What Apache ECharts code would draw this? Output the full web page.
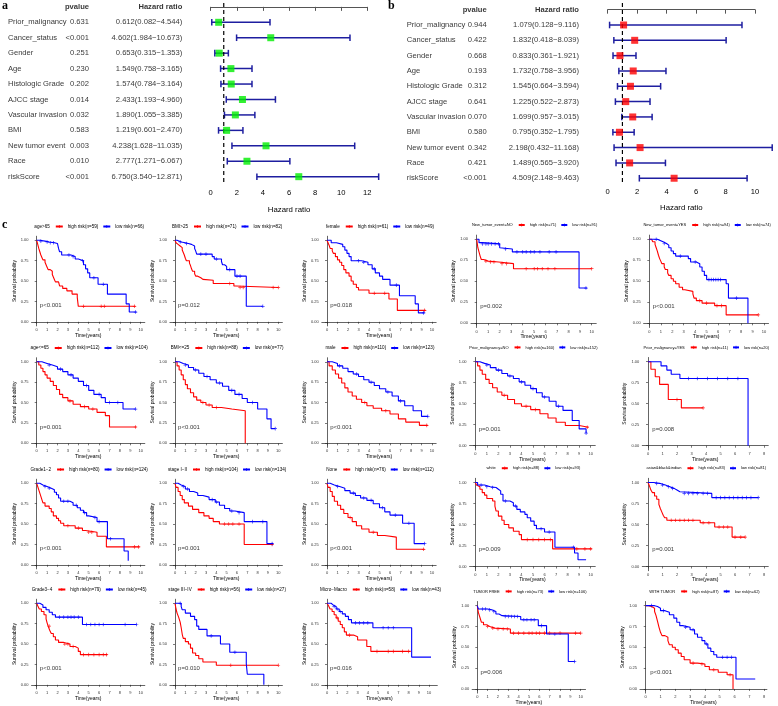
<!DOCTYPE html>
<html>
<head>
<meta charset="utf-8">
<script src="https://cdn.jsdelivr.net/npm/echarts@6/dist/echarts.min.js"></script>
<style>html,body{margin:0;background:#fff}#main{width:778px;height:706px}</style>
</head>
<body>
<div id="main"></div>
<script>
// ---- forest plot data (a: univariate, b: multivariate) ----
var forestVars = ['Prior_malignancy','Cancer_status','Gender','Age','Histologic Grade','AJCC stage','Vascular invasion','BMI','New tumor event','Race','riskScore'];
var uniP = ['0.631','<0.001','0.251','0.230','0.202','0.014','0.032','0.583','0.003','0.010','<0.001'];
var uniHR = [0.612,4.602,0.653,1.549,1.574,2.433,1.890,1.219,4.238,2.777,6.750];
var uniLow = [0.082,1.984,0.315,0.758,0.784,1.193,1.055,0.601,1.628,1.271,3.540];
var uniHigh = [4.544,10.673,1.353,3.165,3.164,4.960,3.385,2.470,11.035,6.067,12.871];
var multiP = ['0.944','0.422','0.668','0.193','0.312','0.641','0.070','0.580','0.342','0.421','<0.001'];
var multiHR = [1.079,1.832,0.833,1.732,1.545,1.225,1.699,0.795,2.198,1.489,4.509];
var multiLow = [0.128,0.418,0.361,0.758,0.664,0.522,0.957,0.352,0.432,0.565,2.148];
var multiHigh = [9.116,8.039,1.921,3.956,3.594,2.873,3.015,1.795,11.168,3.920,9.463];

// ---- KM panels (c) ----
var kmStrata = ['age>65','BMI>25','female','New_tumor_event=NO','New_tumor_event=YES',
  'age<=65','BMI<=25','male','Prior_malignancy=NO','Prior_malignancy=YES',
  'Grade1\u22122','stage I\u2212II','None','white','asian&black&indian',
  'Grade3\u22124','stage III\u2212IV','Micro\u2212Macro','TUMOR FREE','WITH TUMOR'];
var kmHighN = [59,71,61,71,94, 112,88,110,160,11, 80,104,76,88,83, 79,56,58,73,87];
var kmLowN = [66,82,49,91,74, 104,77,123,152,20, 124,134,112,93,81, 45,27,43,106,62];
var kmPval = ['p<0.001','p=0.012','p=0.018','p=0.002','p<0.001',
  'p=0.001','p<0.001','p<0.001','p=0.001','p=0.008',
  'p<0.001','p=0.001','p<0.001','p=0.009','p=0.001',
  'p<0.001','p=0.010','p=0.016','p=0.006','p<0.001'];
var kmTickMax = [10,10,10,10,10, 10,10,10,10,8, 10,10,10,10,8, 10,10,10,10,8];

var kmHigh = [
  [[0,1],[0.1,0.95],[0.2,0.9],[0.3,0.86],[0.4,0.82],[0.5,0.79],[0.6,0.76],[0.8,0.73],[0.9,0.7],[1.0,0.67],[1.1,0.64],[1.3,0.62],[1.5,0.58],[1.6,0.55],[1.7,0.52],[1.8,0.49],[2.1,0.47],[2.2,0.44],[2.5,0.41],[2.9,0.38],[3.4,0.34],[3.9,0.3],[4.0,0.19],[9.5,0.19]],
  [[0,1],[0.1,0.97],[0.2,0.95],[0.3,0.93],[0.5,0.91],[0.7,0.88],[0.8,0.85],[0.9,0.82],[1.0,0.78],[1.1,0.75],[1.4,0.72],[1.5,0.69],[1.6,0.65],[1.7,0.62],[1.9,0.59],[2.0,0.56],[2.2,0.54],[2.5,0.52],[2.7,0.51],[3.7,0.47],[5.7,0.44],[5.9,0.42],[10,0.42]],
  [[0,1],[0.1,0.97],[0.2,0.94],[0.3,0.9],[0.5,0.87],[0.6,0.84],[0.8,0.8],[1.0,0.76],[1.2,0.73],[1.4,0.69],[1.6,0.64],[1.8,0.6],[2.1,0.56],[2.3,0.5],[2.5,0.46],[2.8,0.42],[3.0,0.39],[4.0,0.35],[5.9,0.28],[6.7,0.14],[9.4,0.14]],
  [[0,1],[0.05,0.95],[0.1,0.9],[0.2,0.85],[0.3,0.8],[0.4,0.76],[0.6,0.74],[1.0,0.73],[1.9,0.71],[3.2,0.65],[10,0.65]],
  [[0,1],[0.2,0.99],[0.3,0.97],[0.5,0.94],[0.6,0.9],[0.7,0.86],[0.8,0.81],[0.9,0.77],[1.0,0.74],[1.1,0.71],[1.3,0.67],[1.4,0.64],[1.6,0.6],[1.7,0.57],[1.9,0.53],[2.1,0.5],[2.3,0.47],[2.6,0.43],[2.9,0.4],[3.1,0.38],[3.8,0.35],[3.9,0.3],[4.1,0.27],[4.6,0.24],[5.7,0.21],[6.7,0.1],[9.5,0.1]],
  [[0,1],[0.2,0.96],[0.4,0.92],[0.6,0.88],[0.8,0.84],[1.0,0.8],[1.3,0.76],[1.6,0.71],[1.9,0.66],[2.2,0.6],[2.5,0.56],[3.0,0.52],[3.5,0.48],[4.2,0.45],[5.0,0.42],[5.8,0.38],[6.6,0.34],[7.0,0.2],[9.6,0.2]],
  [[0,1],[0.2,0.95],[0.4,0.9],[0.6,0.84],[0.8,0.78],[1.0,0.72],[1.2,0.67],[1.5,0.62],[1.8,0.57],[2.1,0.53],[2.5,0.5],[3.0,0.47],[3.6,0.44],[4.5,0.42],[5.5,0.4],[6.8,0.0]],
  [[0,1],[0.2,0.95],[0.5,0.9],[0.8,0.85],[1.1,0.8],[1.4,0.74],[1.7,0.68],[2.0,0.63],[2.4,0.58],[2.8,0.54],[3.3,0.5],[3.8,0.46],[4.4,0.43],[5.2,0.4],[6.0,0.36],[6.8,0.3],[7.5,0.26],[8.8,0.22],[9.6,0.22]],
  [[0,1],[0.2,0.95],[0.4,0.9],[0.6,0.85],[0.9,0.79],[1.2,0.74],[1.5,0.69],[1.9,0.64],[2.3,0.6],[2.8,0.55],[3.4,0.5],[4.0,0.47],[4.8,0.43],[5.6,0.38],[6.3,0.33],[7.0,0.28],[7.8,0.24],[9.0,0.22],[9.8,0.22]],
  [[0,1],[0.2,0.91],[0.5,0.82],[0.8,0.73],[1.4,0.55],[2.3,0.45],[3.8,0.45]],
  [[0,1],[0.1,0.96],[0.2,0.92],[0.3,0.88],[0.4,0.84],[0.5,0.8],[0.6,0.76],[0.8,0.72],[1.2,0.69],[1.4,0.65],[1.6,0.6],[1.9,0.57],[2.1,0.54],[2.3,0.51],[2.6,0.48],[3.7,0.45],[4.4,0.42],[4.7,0.4],[5.8,0.35],[6.7,0.22],[9.9,0.22]],
  [[0,1],[0.1,0.95],[0.3,0.9],[0.5,0.85],[0.7,0.8],[0.9,0.76],[1.3,0.72],[1.7,0.68],[2.3,0.64],[2.8,0.6],[3.3,0.57],[3.7,0.53],[4.3,0.5],[6.7,0.25],[9.5,0.25]],
  [[0,1],[0.1,0.95],[0.3,0.9],[0.5,0.84],[0.7,0.78],[1.0,0.73],[1.3,0.68],[1.6,0.63],[2.0,0.58],[2.4,0.53],[2.8,0.48],[3.3,0.44],[4.0,0.4],[4.8,0.36],[5.5,0.34],[6.6,0.19],[9.3,0.19]],
  [[0,1],[0.1,0.97],[0.2,0.95],[0.4,0.92],[0.6,0.88],[0.8,0.85],[1.0,0.81],[1.5,0.78],[1.7,0.72],[1.8,0.66],[2.0,0.6],[2.3,0.55],[2.5,0.5],[2.9,0.46],[3.3,0.42],[3.8,0.38],[4.0,0.32],[6.7,0.21],[10.1,0.21]],
  [[0,1],[0.1,0.96],[0.2,0.91],[0.3,0.88],[0.45,0.84],[0.6,0.8],[0.75,0.74],[0.85,0.69],[0.95,0.65],[1.05,0.61],[1.15,0.58],[1.3,0.55],[3.6,0.52],[4.6,0.47],[5.8,0.35],[6.7,0.35]],
  [[0,1],[0.1,0.97],[0.25,0.93],[0.45,0.9],[0.7,0.86],[0.9,0.81],[1.0,0.76],[1.1,0.72],[1.25,0.67],[1.4,0.63],[1.6,0.59],[1.8,0.55],[2.1,0.52],[2.6,0.5],[3.2,0.47],[3.7,0.45],[4.0,0.41],[4.2,0.37],[6.8,0.37]],
  [[0,1],[0.1,0.93],[0.2,0.88],[0.35,0.83],[0.5,0.77],[0.6,0.7],[0.7,0.62],[0.8,0.57],[1.0,0.53],[1.3,0.5],[1.5,0.45],[1.7,0.39],[2.0,0.36],[2.3,0.32],[2.7,0.28],[4.0,0.24],[10,0.24]],
  [[0,1],[0.15,0.97],[0.3,0.93],[0.5,0.9],[0.7,0.86],[0.9,0.82],[1.1,0.78],[1.3,0.74],[1.5,0.7],[1.7,0.65],[1.9,0.61],[2.6,0.59],[3.0,0.55],[3.9,0.47],[4.3,0.41],[8.2,0.41]],
  [[0,1],[0.05,0.96],[0.1,0.92],[0.2,0.88],[0.3,0.84],[0.4,0.8],[0.6,0.77],[0.9,0.75],[1.2,0.73],[1.7,0.72],[3.2,0.67],[10,0.67]],
  [[0,1],[0.2,0.99],[0.4,0.97],[0.6,0.93],[0.7,0.88],[0.8,0.81],[0.9,0.74],[1.0,0.68],[1.1,0.64],[1.3,0.62],[1.5,0.58],[1.6,0.53],[1.8,0.5],[2.0,0.47],[2.2,0.43],[2.4,0.39],[2.6,0.35],[3.0,0.31],[3.5,0.3],[4.0,0.27],[4.3,0.23],[4.9,0.2],[5.5,0.17],[5.9,0.0]]
];
var kmLow = [
  [[0,1],[0.3,0.99],[0.8,0.98],[1.2,0.97],[1.7,0.96],[2.0,0.94],[2.1,0.9],[2.2,0.86],[2.4,0.82],[3.3,0.8],[3.7,0.77],[4.0,0.75],[4.5,0.7],[4.7,0.65],[4.9,0.6],[5.1,0.54],[5.9,0.46],[6.8,0.34],[8.6,0.22],[8.9,0.12],[9.6,0.12]],
  [[0,1],[0.2,0.98],[0.6,0.97],[1.0,0.96],[1.3,0.95],[1.6,0.93],[1.9,0.9],[2.0,0.87],[2.1,0.83],[3.6,0.8],[3.8,0.77],[4.5,0.74],[4.6,0.7],[4.8,0.68],[5.0,0.64],[5.8,0.56],[6.9,0.19],[8.5,0.19]],
  [[0,1],[0.4,0.97],[0.9,0.95],[1.5,0.92],[1.7,0.88],[1.9,0.84],[2.1,0.8],[2.3,0.75],[3.3,0.73],[3.9,0.7],[4.3,0.65],[4.6,0.6],[5.0,0.56],[5.3,0.52],[6.0,0.45],[6.9,0.32],[8.4,0.22],[8.7,0.11],[9.3,0.11]],
  [[0,1],[0.2,0.96],[0.5,0.945],[2.0,0.9],[2.1,0.885],[3.1,0.85],[8.9,0.42],[9.6,0.42]],
  [[0,1],[0.7,0.99],[0.9,0.97],[1.2,0.95],[1.5,0.93],[1.7,0.9],[1.9,0.86],[2.1,0.83],[2.3,0.8],[3.4,0.77],[3.6,0.73],[4.1,0.71],[4.4,0.67],[4.6,0.62],[4.8,0.57],[5.0,0.52],[6.7,0.47],[6.9,0.3],[8.6,0.0]],
  [[0,1],[0.5,0.98],[1.0,0.96],[1.5,0.94],[2.0,0.91],[2.5,0.88],[3.0,0.84],[3.5,0.8],[4.0,0.76],[4.5,0.71],[5.0,0.65],[5.5,0.6],[6.2,0.56],[6.6,0.5],[8.3,0.42],[9.5,0.42]],
  [[0,1],[0.4,0.98],[0.8,0.96],[1.3,0.93],[1.8,0.9],[2.3,0.86],[2.8,0.82],[3.4,0.78],[4.0,0.74],[4.6,0.7],[5.2,0.65],[5.8,0.6],[6.5,0.55],[7.0,0.5],[8.0,0.42],[8.9,0.3],[9.3,0.18],[9.7,0.18]],
  [[0,1],[0.5,0.98],[1.0,0.95],[1.5,0.92],[2.0,0.88],[2.5,0.85],[3.0,0.82],[3.5,0.78],[4.0,0.75],[4.5,0.71],[5.0,0.67],[5.6,0.63],[6.2,0.58],[6.8,0.52],[7.4,0.46],[8.2,0.4],[9.0,0.33],[9.6,0.33]],
  [[0,1],[0.4,0.98],[0.8,0.96],[1.3,0.93],[1.8,0.9],[2.3,0.86],[2.8,0.83],[3.3,0.8],[3.8,0.76],[4.3,0.72],[4.8,0.68],[5.3,0.63],[5.8,0.58],[6.4,0.53],[7.0,0.47],[7.6,0.42],[8.4,0.3],[9.0,0.2],[9.6,0.15]],
  [[0,1],[0.9,0.95],[1.3,0.9],[1.6,0.85],[2.2,0.8],[6.9,0.0]],
  [[0,1],[0.3,0.98],[0.6,0.96],[1.0,0.94],[1.4,0.92],[1.7,0.89],[1.9,0.86],[2.1,0.82],[2.3,0.78],[3.2,0.76],[3.5,0.73],[3.9,0.7],[4.2,0.67],[4.5,0.64],[4.8,0.6],[5.0,0.58],[5.8,0.53],[6.8,0.32],[8.4,0.17],[8.8,0.05]],
  [[0,1],[0.3,0.98],[0.6,0.96],[1.0,0.93],[1.4,0.9],[1.8,0.88],[2.2,0.85],[2.7,0.83],[3.3,0.8],[3.9,0.77],[4.3,0.73],[4.8,0.69],[5.3,0.66],[5.8,0.64],[6.7,0.53],[8.9,0.26],[9.5,0.26]],
  [[0,1],[0.3,0.98],[0.7,0.96],[1.2,0.94],[1.7,0.91],[2.2,0.88],[2.7,0.85],[3.2,0.82],[3.8,0.79],[4.4,0.75],[5.0,0.7],[5.5,0.65],[6.0,0.61],[7.2,0.51],[8.3,0.26],[9.3,0.26]],
  [[0,1],[0.2,0.97],[0.8,0.95],[1.3,0.94],[1.8,0.92],[2.0,0.9],[2.2,0.86],[2.4,0.78],[3.0,0.76],[3.3,0.72],[3.6,0.68],[3.9,0.65],[4.3,0.62],[4.5,0.58],[4.8,0.54],[5.1,0.49],[5.3,0.45],[6.0,0.41],[6.9,0.23],[8.6,0.16],[8.9,0.08],[9.6,0.08]],
  [[0,1],[0.4,0.99],[0.8,0.97],[1.2,0.95],[1.5,0.93],[1.8,0.91],[2.0,0.89],[2.2,0.87],[4.4,0.82],[7.6,0.82]],
  [[0,1],[0.3,0.98],[0.6,0.95],[0.9,0.92],[1.2,0.89],[1.5,0.86],[1.8,0.83],[4.4,0.74],[9.6,0.74]],
  [[0,1],[0.6,0.96],[0.7,0.92],[1.0,0.88],[1.5,0.84],[1.9,0.8],[2.1,0.72],[2.3,0.68],[3.1,0.6],[4.4,0.5],[5.3,0.4],[6.9,0.26],[7.0,0.13],[8.6,0.0]],
  [[0,1],[0.4,0.98],[0.6,0.96],[0.9,0.93],[1.2,0.9],[1.5,0.87],[1.8,0.84],[2.1,0.8],[2.4,0.76],[4.5,0.7],[8.3,0.34],[10.2,0.34]],
  [[0,1],[0.1,0.96],[1.0,0.95],[1.4,0.93],[1.8,0.9],[2.1,0.88],[2.4,0.87],[4.2,0.83],[5.9,0.76],[6.7,0.66],[8.8,0.33],[9.4,0.33]],
  [[0,1],[0.6,0.99],[0.8,0.97],[1.0,0.94],[1.3,0.92],[1.6,0.89],[1.9,0.85],[2.1,0.8],[2.3,0.76],[2.5,0.74],[3.0,0.71],[3.3,0.66],[3.5,0.62],[3.8,0.58],[4.0,0.54],[4.2,0.49],[4.4,0.45],[4.6,0.41],[4.8,0.38],[6.1,0.12],[7.4,0.12]]
];
// censoring times
var kmHighCens = [
  [4.5,6.2,6.5,9.4],[5.3,6.3,6.6,9.5,10],[4.5,5.5,9.3],[0.8,1.2,1.5,2.2,2.6,4.3,5.0,5.3,5.7,6.2,6.8,10],[4.4,5.0,5.9,6.3,9.5],
  [3.2,4.6,5.4,9.5],[2.7,3.3,4.0],[3.6,5.6,9.5],[2.5,4.4,5.2,9.7],[2.0,3.8],
  [3.0,4.0,5.0,5.3,9.4,9.8],[4.8,5.2,5.6,6.2,9.4],[2.2,4.4,9.2],[4.5,5.0,5.5,6.0,6.5,8.8,9.5,10],[1.6,1.9,2.2,2.5,2.8,3.1,3.8,4.2,4.9,5.2,5.5,6.0,6.4,6.7],
  [1.2,2.7,3.0,3.5,4.5,5.0,5.5,6.0,6.4,6.7],[5.4,10],[1.0,2.2,4.9,6.0,6.5,7.4,8.0],[1.0,1.5,2.0,2.5,2.9,3.5,4.0,4.5,5.0,5.3,5.7,6.0,6.5,7.0,8.0,9.5,10],[3.2,3.8,4.6,5.7]
];
var kmLowCens = [
  [0.4,1.0,1.3,1.6,3.1,3.5,4.4,5.5,6.4,9.5],[0.5,1.1,2.5,3.0,4.0,5.3,6.0,6.3,8.5],[3.0,3.5,4.5,6.6,9.2],[0.5,0.8,1.0,1.3,1.6,1.9,2.5,3.5,4.0,4.3,4.7,5.0,5.5,6.3,6.9,9.5],[0.6,1.3,2.7,4.0,5.2,5.4,5.6,5.8,6.0,6.2,7.6],
  [1.2,2.3,3.3,4.8,6.0,7.0,7.8,9.5],[1.0,2.0,3.1,4.3,5.5,6.2,7.5,9.7],[1.2,2.8,4.2,5.8,7.0,9.6],[1.0,2.0,3.0,4.0,5.0,6.0,7.2,9.6],[2.8,3.4,4.1,4.8,5.5,6.2],
  [0.8,1.2,2.6,3.0,3.8,4.6,5.6,6.0,7.1],[0.8,1.2,3.6,4.0,5.5,6.2,7.5,8.5,9.4],[1.0,2.5,3.5,4.2,5.3,6.5,7.8,9.3],[0.5,1.0,1.5,2.6,3.5,5.7,6.4,8.5],[0.6,1.0,1.4,1.7,2.5,2.8,3.1,3.4,3.8,4.1,4.7,5.0,5.3,5.6,5.9,6.2,6.5,6.8,7.1,7.6],
  [2.2,2.6,3.0,3.3,3.6,4.0,4.8,5.2,5.6,6.0,6.4,8.5,9.6],[0.5,3.5,5.8],[0.7,1.0,1.3,2.8,3.2,3.6,4.0,5.5,6.0,6.5],[0.5,0.8,1.2,1.6,2.7,3.0,3.3,3.6,3.9,4.5,4.8,5.2,5.5,6.2,7.5,9.4],[0.4,1.2,2.7,3.2,4.1,5.2,5.5,5.8]
];

// ---- layout (pixels) ----
var kmX0 = [36.7,175,327,476.7,649.3, 36.7,175,327,475.3,648, 36.7,175,327,475.3,648, 36.7,175,327,477.3,645.7];
var kmPPU = [10.4,10.33,10.5,11.5,11.47, 10.4,10.33,10.5,11.54,14.5, 10.4,10.33,10.5,11.54,14.5, 10.4,10.33,10.2,10.34,14.8];
var kmT = [9.9,9.9,9.9,9.9,9.9, 9.9,9.9,9.9,9.9,7.9, 9.9,9.9,9.9,9.9,7.9, 9.9,9.9,10.3,9.97,7.8];
var rowTopA = [240.3,361.8,483.3,603.3], rowTopB = [239.3,361.7,482.5,605.7];

var FONT = '"Liberation Sans", Arial, sans-serif';
var RED = '#ff0000', BLUE = '#0000ff';
var PLUS = 'path://M4,0h2v4h4v2h-4v4h-2v-4h-4v-2h4z';
var ctx = document.createElement('canvas').getContext('2d');
function textW(s, size) { ctx.font = size + 'px "Liberation Sans"'; return ctx.measureText(s).width; }
function stepAt(curve, t) {
  var s = curve[0][1];
  for (var i = 0; i < curve.length; i++) if (curve[i][0] <= t) s = curve[i][1];
  return s;
}

var grids = [], xAxes = [], yAxes = [], series = [], titles = [], legends = [];

function textCol(gi, x, rows, texts, pos, bold) {
  series.push({
    type: 'scatter', xAxisIndex: gi, yAxisIndex: gi, silent: true, symbolSize: 0.01,
    itemStyle: {color: 'transparent'},
    data: rows.map(function (r) { return [x, r]; }),
    label: {show: true, position: pos, distance: 0, color: '#000', fontSize: 7.6, fontFamily: FONT,
      fontWeight: bold ? 'bold' : 'normal',
      formatter: function (p) { return texts[p.dataIndex]; }}
  });
}

function addForest(c) {
  var rows = forestVars.map(function (v, i) { return i + 1; });
  var hrText = c.hr.map(function (h, i) {
    return h.toFixed(3) + '(' + c.low[i].toFixed(3) + '\u2212' + c.high[i].toFixed(3) + ')';
  });
  // table
  var gi = grids.length;
  grids.push({left: c.tableLeft, top: c.top, width: 200, height: c.height});
  xAxes.push({gridIndex: gi, type: 'value', min: 0, max: 200, show: false});
  yAxes.push({gridIndex: gi, type: 'value', min: c.ymin, max: c.ymax, inverse: true, show: false});
  textCol(gi, c.nameX, rows, forestVars, 'right', false);
  textCol(gi, c.pX, rows, c.p, 'left', false);
  textCol(gi, c.hrX, rows, hrText, 'left', false);
  textCol(gi, c.pX, [0], ['pvalue'], 'left', true);
  textCol(gi, c.hrX, [0], ['Hazard ratio'], 'left', true);
  // plot
  var gp = grids.length;
  grids.push({left: c.plotLeft, top: c.top, width: c.plotWidth, height: c.height});
  xAxes.push({gridIndex: gp, type: 'value', min: 0, max: c.xmax, interval: 2,
    axisLine: {lineStyle: {color: '#555', width: 1}},
    axisTick: {length: 4, lineStyle: {color: '#555'}},
    axisLabel: {fontSize: 7.6, color: '#000', margin: 5, fontFamily: FONT},
    splitLine: {show: false},
    name: 'Hazard ratio', nameLocation: 'middle', nameGap: 21,
    nameTextStyle: {fontSize: 7.8, color: '#000', fontFamily: FONT}});
  yAxes.push({gridIndex: gp, type: 'value', min: c.ymin, max: c.ymax, inverse: true, show: false});
  series.push({type: 'line', xAxisIndex: gp, yAxisIndex: gp, silent: true, symbol: 'none',
    data: [[1, c.ymin], [1, c.ymax]], lineStyle: {color: '#000', width: 1.2, type: [4, 3]}});
  series.push({type: 'custom', xAxisIndex: gp, yAxisIndex: gp, silent: true, clip: false,
    encode: {x: [0, 1], y: 2},
    data: rows.map(function (r, i) { return [c.low[i], c.high[i], r]; }),
    renderItem: function (params, api) {
      var p1 = api.coord([api.value(0), api.value(2)]);
      var p2 = api.coord([api.value(1), api.value(2)]);
      var st = {stroke: '#1e1ea0', lineWidth: 1.5};
      return {type: 'group', children: [
        {type: 'line', shape: {x1: p1[0], y1: p1[1], x2: p2[0], y2: p2[1]}, style: st},
        {type: 'line', shape: {x1: p1[0], y1: p1[1] - 3.3, x2: p1[0], y2: p1[1] + 3.3}, style: st},
        {type: 'line', shape: {x1: p2[0], y1: p2[1] - 3.3, x2: p2[0], y2: p2[1] + 3.3}, style: st}
      ]};
    }});
  series.push({type: 'scatter', xAxisIndex: gp, yAxisIndex: gp, silent: true, z: 5,
    symbol: 'rect', symbolSize: 7, itemStyle: {color: c.box},
    data: rows.map(function (r, i) { return [c.hr[i], r]; })});
}

addForest({tableLeft: 0, nameX: 8, pX: 89, hrX: 182.3, p: uniP, hr: uniHR, low: uniLow, high: uniHigh,
  plotLeft: 210.7, plotWidth: 156.6, xmax: 12, top: 3, height: 181.4, ymin: -0.25, ymax: 11.5, box: '#00ee00'});
addForest({tableLeft: 385, nameX: 21.7, pX: 101.7, hrX: 194, p: multiP, hr: multiHR, low: multiLow, high: multiHigh,
  plotLeft: 607.7, plotWidth: 147.3, xmax: 10, top: 3, height: 180.3, ymin: -0.435, ymax: 11.33, box: '#ff0000'});

// KM panels
for (var k = 0; k < 20; k++) {
  var col = k % 5, row = Math.floor(k / 5);
  var x0 = kmX0[k], ppu = kmPPU[k], T = kmT[k];
  var y1 = col < 3 ? rowTopA[row] : rowTopB[row];
  var h = col < 3 ? 81.5 : 84;
  var left = x0 - 0.05 * T * ppu, width = 1.1 * T * ppu;
  var gi = grids.length;
  grids.push({left: left, top: y1 - 0.05 * h, width: width, height: 1.1 * h});
  var ticks = [];
  for (var t = 0; t <= kmTickMax[k]; t++) ticks.push(t);
  xAxes.push({gridIndex: gi, type: 'value', min: -0.05 * T, max: 1.05 * T,
    axisLine: {lineStyle: {color: '#222', width: 0.7}},
    axisTick: {customValues: ticks, length: 2, lineStyle: {color: '#222', width: 0.6}},
    axisLabel: {customValues: ticks, fontSize: 4, color: '#333', margin: 2, fontFamily: FONT},
    splitLine: {show: false},
    name: 'Time(years)', nameLocation: 'middle', nameGap: 5.5,
    nameTextStyle: {fontSize: 5, color: '#000', fontFamily: FONT}});
  yAxes.push({gridIndex: gi, type: 'value', min: -0.05, max: 1.05,
    axisLine: {lineStyle: {color: '#222', width: 0.7}},
    axisTick: {customValues: [0, 0.25, 0.5, 0.75, 1], length: 2, lineStyle: {color: '#222', width: 0.6}},
    axisLabel: {customValues: [0, 0.25, 0.5, 0.75, 1], fontSize: 4, color: '#333', margin: 3, fontFamily: FONT,
      formatter: function (v) { return v.toFixed(2); }},
    splitLine: {show: false},
    name: 'Survival probability', nameLocation: 'middle', nameGap: 12.4,
    nameTextStyle: {fontSize: 5, color: '#000', fontFamily: FONT}});

  var hiName = 'high risk(n=' + kmHighN[k] + ')', loName = 'low risk(n=' + kmLowN[k] + ')';
  [[kmHigh[k], kmHighCens[k], hiName, RED], [kmLow[k], kmLowCens[k], loName, BLUE]].forEach(function (d) {
    series.push({type: 'line', name: d[2], xAxisIndex: gi, yAxisIndex: gi, step: 'end', silent: true,
      showSymbol: false, symbol: PLUS, symbolSize: 4, data: d[0],
      itemStyle: {color: d[3]}, lineStyle: {color: d[3], width: 1.1}});
    series.push({type: 'scatter', xAxisIndex: gi, yAxisIndex: gi, silent: true, symbol: PLUS, symbolSize: 3.6,
      itemStyle: {color: d[3]},
      data: d[1].map(function (tc) { return [tc, stepAt(d[0], tc)]; })});
  });
  // p-value
  series.push({type: 'scatter', xAxisIndex: gi, yAxisIndex: gi, silent: true, symbolSize: 0.01,
    itemStyle: {color: 'transparent'}, data: [[0.3, 0.2]],
    label: {show: true, position: 'right', distance: 0, fontSize: 6, color: '#000', fontFamily: FONT,
      formatter: kmPval[k]}});

  // legend line above plot
  var fs = col < 3 ? 4.6 : 4.0, iw = col < 3 ? 7 : 6, gap = 4;
  var sw = textW(kmStrata[k], fs);
  var lw = (iw + 5 + textW(hiName, fs)) + gap + (iw + 5 + textW(loName, fs));
  var total = sw + 5 + lw;
  var startX = left + width / 2 - total / 2;
  var yc = y1 - 13.7;
  titles.push({text: kmStrata[k], left: startX, top: yc - 2.6, padding: 0,
    textStyle: {fontSize: fs, fontWeight: 'normal', color: '#000', fontFamily: FONT}});
  legends.push({data: [hiName, loName], left: startX + sw + 5, top: yc - 2.6, padding: 0, width: 300,
    itemWidth: iw, itemHeight: 4, itemGap: gap, selectedMode: false,
    textStyle: {fontSize: fs, color: '#000', fontFamily: FONT}});
}

var chart = echarts.init(document.getElementById('main'));
chart.setOption({
  animation: false,
  backgroundColor: '#fff',
  title: titles,
  legend: legends,
  grid: grids,
  xAxis: xAxes,
  yAxis: yAxes,
  series: series,
  graphic: [
    {type: 'text', left: 2, top: 0, style: {text: 'a', font: 'bold 12px "Liberation Serif"', fill: '#000'}},
    {type: 'text', left: 388, top: 0, style: {text: 'b', font: 'bold 12px "Liberation Serif"', fill: '#000'}},
    {type: 'text', left: 2, top: 219, style: {text: 'c', font: 'bold 12px "Liberation Serif"', fill: '#000'}}
  ]
});
</script>
</body>
</html>
